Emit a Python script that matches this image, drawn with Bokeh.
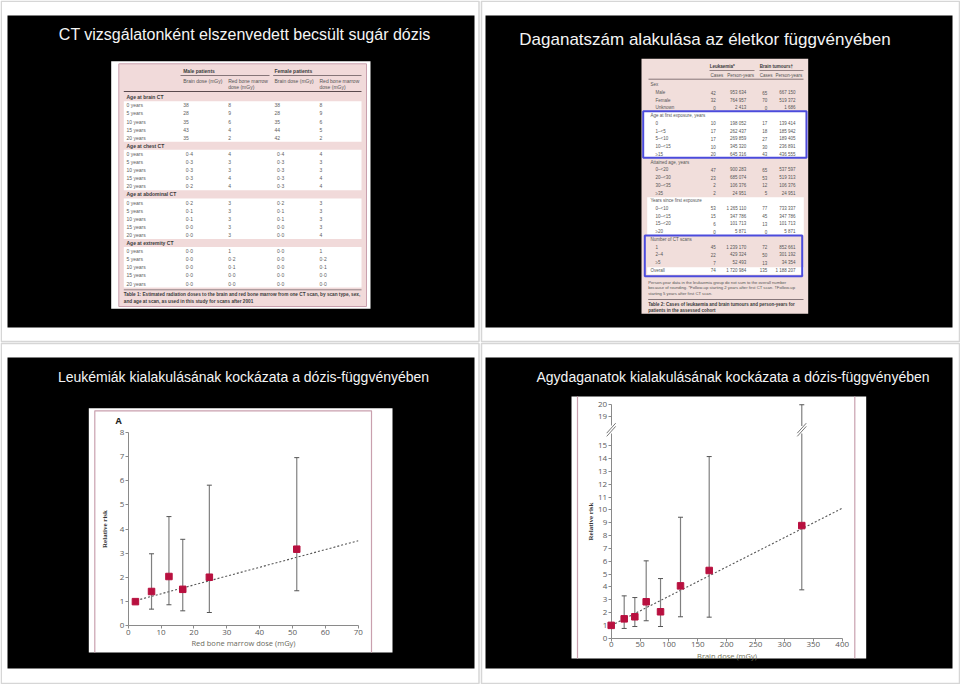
import math
from bokeh.plotting import figure
from bokeh.models import Range1d, LinearAxis, FixedTicker
from bokeh.embed import file_html
from bokeh.resources import INLINE
from bokeh.core.properties import value

NaN = float("nan")

# ====================== DATA ======================
SLIDE_TITLES = [
    "CT vizsgálatonként elszenvedett becsült sugár dózis",
    "Daganatszám alakulása az életkor függvényében",
    "Leukémiák kialakulásának kockázata a dózis-függvényében",
    "Agydaganatok kialakulásának kockázata a dózis-függvényében",
]

# ---- Table 1 (top-left slide) ----
T1_GROUPS = ["Male patients", "Female patients"]
T1_HEAD_LINE1 = ["Brain dose (mGy)", "Red bone marrow", "Brain dose (mGy)", "Red bone marrow"]
T1_HEAD_LINE2 = ["", "dose (mGy)", "", "dose (mGy)"]
T1_SECTIONS = ["Age at brain CT", "Age at chest CT", "Age at abdominal CT", "Age at extremity CT"]
T1_AGES = ["0 years", "5 years", "10 years", "15 years", "20 years"]
T1_MALE_BRAIN = [["38", "28", "35", "43", "35"],
                 ["0·4", "0·3", "0·3", "0·3", "0·2"],
                 ["0·2", "0·1", "0·1", "0·0", "0·0"],
                 ["0·0", "0·0", "0·0", "0·0", "0·0"]]
T1_MALE_MARROW = [["8", "9", "6", "4", "2"],
                  ["4", "3", "3", "4", "4"],
                  ["3", "3", "3", "3", "3"],
                  ["1", "0·2", "0·1", "0·0", "0·0"]]
T1_FEMALE_BRAIN = [["38", "28", "35", "44", "42"],
                   ["0·4", "0·3", "0·3", "0·3", "0·3"],
                   ["0·2", "0·1", "0·1", "0·0", "0·0"],
                   ["0·0", "0·0", "0·0", "0·0", "0·0"]]
T1_FEMALE_MARROW = [["8", "9", "6", "5", "2"],
                    ["4", "3", "3", "4", "4"],
                    ["3", "3", "3", "3", "4"],
                    ["1", "0·2", "0·1", "0·0", "0·0"]]
T1_CAPTION = ["Table 1: Estimated radiation doses to the brain and red bone marrow from one CT scan, by scan type, sex,",
              "and age at scan, as used in this study for scans after 2001"]

# ---- Table 2 (top-right slide) ----
T2_GROUPS = ["Leukaemia*", "Brain tumours†"]
T2_SUBHEADS = ["Cases", "Person-years", "Cases", "Person-years"]
T2_SECTIONS = ["Sex", "Age at first exposure, years", "Attained age, years",
               "Years since first exposure", "Number of CT scans"]
T2_ROWS = [
    [("Male", "42", "953 634", "65", "667 150"),
     ("Female", "32", "764 957", "70", "519 372"),
     ("Unknown", "0", "2 413", "0", "1 686")],
    [("0", "10", "198 052", "17", "139 414"),
     ("1–<5", "17", "262 437", "18", "185 942"),
     ("5–<10", "17", "269 859", "27", "189 405"),
     ("10–<15", "10", "345 320", "30", "236 891"),
     ("≥15", "20", "645 316", "43", "436 555")],
    [("0–<20", "47", "900 283", "65", "537 597"),
     ("20–<30", "23", "685 074", "53", "519 313"),
     ("30–<35", "2", "106 376", "12", "106 376"),
     ("≥35", "2", "24 951", "5", "24 951")],
    [("0–<10", "53", "1 265 110", "77", "733 337"),
     ("10–<15", "15", "347 786", "45", "347 786"),
     ("15–<20", "6", "101 713", "13", "101 713"),
     ("≥20", "0", "5 871", "0", "5 871")],
    [("1", "45", "1 239 170", "72", "852 661"),
     ("2–4", "22", "429 324", "50", "301 192"),
     ("≥5", "7", "52 493", "13", "34 354")],
]
T2_OVERALL = ("Overall", "74", "1 720 984", "135", "1 188 207")
T2_FOOTNOTE = ["Person-year data in the leukaemia group do not sum to the overall number",
               "because of rounding. *Follow-up starting 2 years after first CT scan. †Follow-up",
               "starting 5 years after first CT scan."]
T2_CAPTION = ["Table 2: Cases of leukaemia and brain tumours and person-years for",
              "patients in the assessed cohort"]

# ---- Chart A: leukaemia vs red bone marrow dose ----
LEU_PANEL_LABEL = "A"
LEU_XLABEL = "Red bone marrow dose (mGy)"
LEU_YLABEL = "Relative risk"
LEU_XTICKS = [0, 10, 20, 30, 40, 50, 60, 70]
LEU_YTICKS = [0, 1, 2, 3, 4, 5, 6, 7, 8]
LEU_DOSE = [2.2, 7.1, 12.4, 16.6, 24.7, 51.3]
LEU_RR = [1.0, 1.42, 2.04, 1.51, 2.01, 3.17]
LEU_LO = [NaN, 0.69, 0.87, 0.62, 0.55, 1.45]
LEU_HI = [NaN, 2.98, 4.52, 3.58, 5.82, 6.96]
LEU_TREND_X = [2.5, 70]
LEU_TREND_Y = [1.05, 3.52]

# ---- Chart B: brain tumours vs brain dose ----
BT_XLABEL = "Brain dose (mGy)"
BT_YLABEL = "Relative risk"
BT_XTICKS = [0, 50, 100, 150, 200, 250, 300, 350, 400]
BT_YTICKS_LOW = list(range(0, 16))
BT_YTICKS_HIGH = [19, 20]
BT_DOSE = [0, 22.5, 40.9, 60.6, 85.4, 120, 169.7, 330]
BT_RR = [1.0, 1.51, 1.67, 2.84, 2.06, 4.08, 5.28, 8.78]
BT_LO = [NaN, 0.76, 0.91, 1.36, 0.91, 1.67, 1.64, 3.77]
BT_HI = [NaN, 3.30, 3.17, 6.03, 4.65, 9.43, 14.16, 19.95]
BT_TREND_X = [0.5, 400]
BT_TREND_Y = [1.0, 10.13]
BT_BREAK_SHIFT = 1.75      # values >= 19 drawn 1.75 units lower (broken axis)
BT_BREAK_GAP = (15.95, 16.55)

# ====================== STYLE / LAYOUT ======================
FONT = value("Liberation Sans")
TFONT = value("Liberation Sans")
CFONT = value("Open Sans")
W, H = 960, 684
X0, Y0 = 0, 0
MARKER = "#b8103f"
BAR = "#808080"
PINKLINE = "#c9a0ae"

p = figure(width=W, height=H, x_range=Range1d(X0, X0 + W), y_range=Range1d(Y0 + H, Y0),
           x_axis_type=None, y_axis_type=None, toolbar_location=None,
           output_backend="svg", min_border=0, outline_line_color=None,
           background_fill_color="white", border_fill_color="white")


def txt(xs, ys, texts, size, color, align="left", style="normal", font=FONT, baseline="middle", **kw):
    return p.text(x=xs, y=ys, text=texts, text_font=font, text_font_size=value(f"{size}px"),
                  text_color=color, text_align=align, text_baseline=baseline,
                  text_font_style=style, **kw)


# ---- quadrant frames + black slides ----
QUADS = [(0.75, 0.75, 478.5, 341.0), (481.0, 0.75, 959.0, 341.0),
         (0.75, 343.0, 478.5, 683.0), (481.0, 343.0, 959.0, 683.0)]
p.quad(left=[q[0] for q in QUADS], top=[q[1] for q in QUADS], right=[q[2] for q in QUADS],
       bottom=[q[3] for q in QUADS], fill_color=None, line_color="#d6d6d6", line_width=1.5)
SLIDES = [(7, 15, 474, 327), (485, 15, 952, 327), (7, 357, 474, 668), (485, 357, 952, 668)]
p.quad(left=[s[0] for s in SLIDES], top=[s[1] for s in SLIDES], right=[s[2] for s in SLIDES],
       bottom=[s[3] for s in SLIDES], fill_color="black", line_color=None)

# ---- titles ----
txt([244.2], [34.3], [SLIDE_TITLES[0]], 16, "#f4f4f4", align="center", font=TFONT)
txt([704.5], [39.3], [SLIDE_TITLES[1]], 17, "#f4f4f4", align="center", font=TFONT)
txt([243.0], [376.0], [SLIDE_TITLES[2]], 14, "#f4f4f4", align="center", font=TFONT)
txt([732.5], [376.0], [SLIDE_TITLES[3]], 14, "#f4f4f4", align="center", font=TFONT)

# ====================== TABLE 1 ======================
p.quad(left=[110.7], right=[370.0], top=[60.7], bottom=[308.3], fill_color="white", line_color=None)
p.quad(left=[118.3], right=[366.0], top=[63.3], bottom=[306.0], fill_color="#f1dada",
       line_color=PINKLINE, line_width=1)
RP1 = 8.1
SEC1_Y0 = 96.7
COLX1 = [182.7, 227.7, 274.0, 319.0]
LBLX1 = 126.0
FS1 = 5.0
band_top, band_bot = [], []
for i in range(len(T1_SECTIONS)):
    hy = SEC1_Y0 + i * 6 * RP1
    band_top.append(hy + RP1 / 2)
    band_bot.append(hy + RP1 / 2 + len(T1_AGES) * RP1)
p.quad(left=123.3, right=361.0, top=band_top, bottom=band_bot, fill_color="white", line_color=None)
txt([COLX1[0], COLX1[2]], [70.7, 70.7], T1_GROUPS, FS1, "#3a3a3a", style="bold")
p.segment(x0=[180.0, 272.7], y0=[75.0, 75.0], x1=[269.0, 361.0], y1=[75.0, 75.0],
          line_color="#6a5a5e", line_width=0.8)
txt(COLX1, [80.7] * 4, T1_HEAD_LINE1, FS1, "#555555")
txt(COLX1, [86.7] * 4, T1_HEAD_LINE2, FS1, "#555555")
p.segment(x0=[123.3], y0=[91.0], x1=[361.0], y1=[91.0], line_color="#5a4a4e", line_width=1.2)
sx, sy, st = [], [], []
dx, dy, dt = [], [], []
for i, sec in enumerate(T1_SECTIONS):
    hy = SEC1_Y0 + i * 6 * RP1
    sx.append(LBLX1); sy.append(hy); st.append(sec)
    cols = [T1_MALE_BRAIN[i], T1_MALE_MARROW[i], T1_FEMALE_BRAIN[i], T1_FEMALE_MARROW[i]]
    for j, age in enumerate(T1_AGES):
        ry = hy + (j + 1) * RP1
        dx.append(LBLX1); dy.append(ry); dt.append(age)
        for c, col in enumerate(cols):
            v = col[j]
            off = 2.5 if ("·" in v and c in (0, 2)) else 0.0
            dx.append(COLX1[c] + off); dy.append(ry); dt.append(v)
txt(sx, sy, st, FS1, "#3a3a3a", style="bold")
txt(dx, dy, dt, FS1, "#606060")
p.segment(x0=[123.3], y0=[289.3], x1=[361.0], y1=[289.3], line_color="#7a6a6e", line_width=0.8)
txt([123.3, 123.3], [294.0, 300.7], T1_CAPTION, 4.7, "#3a3a3a", style="bold")

# ====================== TABLE 2 ======================
p.quad(left=[641.0], right=[807.7], top=[58.3], bottom=[313.3], fill_color="#f1dedb", line_color=None)
p.quad(left=[643.3, 646.7, 646.7], right=[805.0, 803.3, 803.3], top=[110.7, 196.7, 266.7],
       bottom=[157.3, 235.0, 274.0], fill_color="white", line_color=None)
FS2 = 4.5
RP2 = 7.73
txt([709.3, 759.3], [66.0, 66.0], T2_GROUPS, FS2, "#3a3a3a", style="bold")
p.segment(x0=[709.0, 759.0], y0=[70.0, 70.0], x1=[754.0, 803.0], y1=[70.0, 70.0],
          line_color="#6a5a5e", line_width=0.7)
txt([710.0, 726.7, 759.3, 775.0], [75.3] * 4, T2_SUBHEADS, FS2, "#555555")
p.segment(x0=[648.0], y0=[78.7], x1=[803.0], y1=[78.7], line_color="#6a5a5e", line_width=0.8)
VALX2 = [715.3, 745.7, 766.7, 795.0]
hx, hy_, ht = [], [], []
lx, ly, lt = [], [], []
vx, vy, vt = [], [], []
y = 84.3
for i, sec in enumerate(T2_SECTIONS):
    hx.append(650.0); hy_.append(y); ht.append(sec)
    for row in T2_ROWS[i]:
        y += RP2
        lx.append(655.0); ly.append(y); lt.append(row[0])
        for c in range(4):
            vx.append(VALX2[c]); vy.append(y); vt.append(row[c + 1])
    y += RP2
lx.append(650.0); ly.append(y); lt.append(T2_OVERALL[0])
for c in range(4):
    vx.append(VALX2[c]); vy.append(y); vt.append(T2_OVERALL[c + 1])
txt(hx, hy_, ht, FS2, "#555555")
txt(lx, ly, lt, FS2, "#555555")
txt(vx, vy, vt, FS2, "#555555", align="right")
txt([647.7] * 3, [281.7, 287.3, 293.3], T2_FOOTNOTE, 4.2, "#555555")
p.segment(x0=[647.7], y0=[299.0], x1=[803.0], y1=[299.0], line_color="#6a5a5e", line_width=0.8)
txt([647.7] * 2, [304.0, 310.0], T2_CAPTION, 4.5, "#3a3a3a", style="bold")
p.quad(left=[642.7, 644.3], right=[806.0, 801.7], top=[110.7, 235.0], bottom=[157.3, 275.7],
       fill_color=None, line_color="#4b4bdc", line_width=2)

# ====================== CHART PANELS ======================
p.quad(left=[88.3, 571.0], right=[392.0, 865.7], top=[407.7, 396.0], bottom=[652.0, 658.0],
       fill_color="white", line_color=None)
p.multi_line(xs=[[94.3, 94.3, 371.0, 371.0], [577.0, 577.0], [854.3, 854.3]],
             ys=[[652.0, 410.3, 410.3, 652.0], [396.0, 658.0], [396.0, 658.0]],
             line_color=PINKLINE, line_width=1.2)


def px_range(px_zero, px_per_unit, lo_px, hi_px, inverted=False):
    if inverted:   # image y grows downward
        return Range1d((px_zero - hi_px) / px_per_unit, (px_zero - lo_px) / px_per_unit)
    return Range1d((lo_px - px_zero) / px_per_unit, (hi_px - px_zero) / px_per_unit)


LEU_PX = dict(x0=127.7, xppu=(357.7 - 127.7) / 70.0, y0=625.3, yppu=(625.3 - 432.0) / 8.0)
BT_PX = dict(x0=610.7, xppu=(841.7 - 610.7) / 400.0, y0=637.7, yppu=(637.7 - 445.3) / 15.0)
p.extra_x_ranges = {"lx": px_range(LEU_PX["x0"], LEU_PX["xppu"], X0, X0 + W),
                    "bx": px_range(BT_PX["x0"], BT_PX["xppu"], X0, X0 + W)}
p.extra_y_ranges = {"ly": px_range(LEU_PX["y0"], LEU_PX["yppu"], Y0, Y0 + H, inverted=True),
                    "by": px_range(BT_PX["y0"], BT_PX["yppu"], Y0, Y0 + H, inverted=True)}

AXC = "#8a8a8a"
TICKC = "#5a5a5a"


def style_axis(ax, size=8):
    ax.axis_line_color = AXC
    ax.axis_line_width = 1
    ax.major_tick_line_color = AXC
    ax.major_tick_out = 3
    ax.major_tick_in = 0
    ax.minor_tick_out = 0
    ax.minor_tick_in = 0
    ax.major_label_text_font = "Open Sans"
    ax.major_label_text_font_size = f"{size}px"
    ax.major_label_text_color = TICKC
    ax.major_label_standoff = 1
    ax.axis_label_text_font = "Open Sans"
    ax.axis_label_text_font_style = "normal"
    ax.axis_label_text_font_size = "7.5px"
    ax.axis_label_text_color = "#6a6a5e"


# ---- Chart A ----
ax = LinearAxis(x_range_name="lx", y_range_name="ly", fixed_location=0, bounds=(0, 70),
                ticker=FixedTicker(ticks=LEU_XTICKS), axis_label=LEU_XLABEL)
style_axis(ax)
ax.axis_label_standoff = 0
p.add_layout(ax, "below")
ay = LinearAxis(x_range_name="lx", y_range_name="ly", fixed_location=0, bounds=(0, 8),
                ticker=FixedTicker(ticks=LEU_YTICKS), axis_label=LEU_YLABEL)
style_axis(ay)
ay.axis_label_text_font = "Liberation Serif"
ay.axis_label_text_font_style = "bold"
ay.axis_label_text_font_size = "7px"
ay.axis_label_text_color = "#333333"
ay.axis_label_standoff = 8
p.add_layout(ay, "left")

txt([118.0], [420.0], [LEU_PANEL_LABEL], 9, "#222222", align="center", style="bold", font=CFONT)

p.line(LEU_TREND_X, LEU_TREND_Y, x_range_name="lx", y_range_name="ly",
       line_color="#555555", line_dash="2 2", line_width=1.1)
p.segment(x0=LEU_DOSE, y0=LEU_LO, x1=LEU_DOSE, y1=LEU_HI, x_range_name="lx", y_range_name="ly",
          line_color=BAR, line_width=1.2)
p.scatter(LEU_DOSE + LEU_DOSE, LEU_LO + LEU_HI, marker="dash", size=5, line_color="#555555",
          line_width=1, x_range_name="lx", y_range_name="ly")
lm = p.scatter(LEU_DOSE, LEU_RR, marker="square", size=6.5, fill_color=MARKER, line_color=MARKER,
               x_range_name="lx", y_range_name="ly")
lm.level = "overlay"


# ---- Chart B ----
def bt_disp(v):
    return v - BT_BREAK_SHIFT if v > BT_BREAK_GAP[1] else v


bx = LinearAxis(x_range_name="bx", y_range_name="by", fixed_location=0, bounds=(0, 400),
                ticker=FixedTicker(ticks=BT_XTICKS), axis_label=BT_XLABEL)
style_axis(bx)
bx.axis_label_standoff = 0
bx.axis_label_text_color = "#74745a"
p.add_layout(bx, "below")

by_lo = LinearAxis(x_range_name="bx", y_range_name="by", fixed_location=0,
                   bounds=(0, BT_BREAK_GAP[0]), ticker=FixedTicker(ticks=BT_YTICKS_LOW))
style_axis(by_lo)
p.add_layout(by_lo, "left")
hi_disp = [bt_disp(t) for t in BT_YTICKS_HIGH]
by_hi = LinearAxis(x_range_name="bx", y_range_name="by", fixed_location=0,
                   bounds=(BT_BREAK_GAP[1], hi_disp[-1]), ticker=FixedTicker(ticks=hi_disp),
                   major_label_overrides={d: str(t) for d, t in zip(hi_disp, BT_YTICKS_HIGH)})
style_axis(by_hi)
p.add_layout(by_hi, "left")
by_lab = LinearAxis(x_range_name="bx", y_range_name="by", fixed_location=0,
                    bounds=(0, hi_disp[-1]), ticker=FixedTicker(ticks=[]), axis_label=BT_YLABEL)
by_lab.axis_line_color = None
by_lab.major_tick_out = 0
by_lab.major_label_standoff = 0
by_lab.axis_label_text_font = "Liberation Serif"
by_lab.axis_label_text_font_style = "bold"
by_lab.axis_label_text_font_size = "7px"
by_lab.axis_label_text_color = "#333333"
by_lab.axis_label_standoff = 17
p.add_layout(by_lab, "left")

p.line(BT_TREND_X, BT_TREND_Y, x_range_name="bx", y_range_name="by",
       line_color="#555555", line_dash="2 2", line_width=1.1)
seg_x, seg_y0, seg_y1, brk_x = [], [], [], [0.0]
for d, lo, hi in zip(BT_DOSE, BT_LO, BT_HI):
    if math.isnan(hi):
        continue
    h = bt_disp(hi)
    if h > BT_BREAK_GAP[1]:
        seg_x += [d, d]; seg_y0 += [lo, BT_BREAK_GAP[1]]; seg_y1 += [BT_BREAK_GAP[0], h]
        brk_x.append(d)
    else:
        seg_x.append(d); seg_y0.append(lo); seg_y1.append(h)
p.segment(x0=seg_x, y0=seg_y0, x1=seg_x, y1=seg_y1, x_range_name="bx", y_range_name="by",
          line_color=BAR, line_width=1.2)
caps_x = [d for d, v in zip(BT_DOSE, BT_LO) if not math.isnan(v)] * 2
caps_y = [v for v in BT_LO if not math.isnan(v)] + [bt_disp(v) for v in BT_HI if not math.isnan(v)]
p.scatter(caps_x, caps_y, marker="dash", size=5, line_color="#555555", line_width=1,
          x_range_name="bx", y_range_name="by")
bdx = 4.5 / BT_PX["xppu"]
bdy = 5.0 / BT_PX["yppu"]
boff = 1.6 / BT_PX["yppu"]
yc = (BT_BREAK_GAP[0] + BT_BREAK_GAP[1]) / 2
mx0, mx1, my0, my1 = [], [], [], []
for xb in brk_x:
    for s in (-1, 1):
        mx0.append(xb - bdx); mx1.append(xb + bdx)
        my0.append(yc + s * boff - bdy); my1.append(yc + s * boff + bdy)
p.segment(x0=mx0, y0=my0, x1=mx1, y1=my1, x_range_name="bx", y_range_name="by",
          line_color="#777777", line_width=1)
bm = p.scatter(BT_DOSE, BT_RR, marker="square", size=6.5, fill_color=MARKER, line_color=MARKER,
               x_range_name="bx", y_range_name="by")
bm.level = "overlay"

open("out.html", "w").write(file_html(p, INLINE))
